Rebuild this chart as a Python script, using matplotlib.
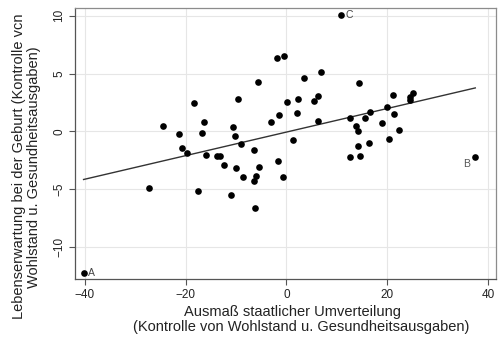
import numpy as np
import matplotlib.pyplot as plt

plt.rcParams['font.family'] = ['Liberation Sans', 'DejaVu Sans']

# partial residuals (x: redistribution, y: life expectancy)
umverteilung = [-40.2, -27.2, -24.5, -21.3, -20.7, -19.8, -18.3, -17.6, -16.8, -16.4,
                -16.0, -13.7, -13.2, -12.4, -10.9, -10.6, -10.2, -9.96, -9.56, -9.03,
                -8.70, -6.52, -6.39, -6.0, -6.26, -5.59, -5.39, -3.0, -1.89, -1.69,
                -1.42, -0.63, -0.43, 0.17, 1.36, 2.15, 2.35, 3.47, 5.46, 6.25,
                6.25, 6.78, 10.75, 12.5, 12.5, 13.8, 14.1, 14.1, 14.3, 14.5,
                15.6, 16.4, 16.6, 18.9, 20.0, 20.3, 21.1, 21.2, 22.2, 24.4,
                24.5, 25.0, 37.4]
lebenserwartung = [-12.19, -4.89, 0.50, -0.22, -1.40, -1.89, 2.50, -5.12, -0.13, 0.79,
                   -2.01, -2.09, -2.09, -2.93, -5.47, 0.39, -0.42, -3.13, 2.84, -1.08,
                   -3.94, -1.63, -4.31, -3.82, -6.57, 4.29, -3.04, 0.79, 6.39, -2.58,
                   1.43, -3.91, 6.48, 2.58, -0.74, 1.57, 2.79, 4.66, 2.61, 3.10,
                   0.94, 5.15, 10.03, 1.17, -2.21, 0.50, 0.07, -1.28, 4.17, -2.09,
                   1.17, -1.0, 1.69, 0.71, 2.09, -0.65, 3.19, 1.54, 0.13, 2.75,
                   2.95, 3.30, -2.24]
# labelled cases: index, label
markierte = [(0, 'A'), (62, 'B'), (42, 'C')]

x = np.array(umverteilung)
y = np.array(lebenserwartung)

fig = plt.figure(figsize=(5.02, 3.38), dpi=100)
ax = fig.add_axes([0.1494, 0.1746, 0.8386, 0.8008])

ax.grid(True, color='#e6e6e6', linewidth=0.8, zorder=0)
ax.set_axisbelow(True)

b, a = np.polyfit(x, y, 1)
xs = np.array([x.min(), x.max()])
ax.plot(xs, a + b * xs, color='#333333', linewidth=1.0, zorder=2)

ax.plot(x, y, 'o', color='black', markersize=4.8, markeredgewidth=0, zorder=3)

for i, lab in markierte:
    if lab == 'B':
        ax.annotate(lab, (x[i], y[i]), xytext=(-4, -5), textcoords='offset points',
                    ha='right', va='center', fontsize=7.5, color='#555555')
    else:
        ax.annotate(lab, (x[i], y[i]), xytext=(3.5, 0), textcoords='offset points',
                    ha='left', va='center', fontsize=7.5, color='#444444')

ax.set_xlim(-41.9, 41.5)
ax.set_ylim(-12.74, 10.64)
ax.set_xticks([-40, -20, 0, 20, 40])
ax.set_yticks([-10, -5, 0, 5, 10])
ax.tick_params(axis='both', direction='out', length=4, width=0.8, color='#555555',
               labelsize=8.5, labelcolor='#222222', pad=3)
ax.tick_params(axis='y', labelrotation=90)
for lbl in ax.get_yticklabels():
    lbl.set_va('center')

for s in ['left', 'bottom']:
    ax.spines[s].set_color('#555555')
for s in ['top', 'right']:
    ax.spines[s].set_color('#8c8c8c')
for s in ax.spines.values():
    s.set_linewidth(0.9)

fig.text(292 / 502, 1 - 312 / 338, 'Ausmaß staatlicher Umverteilung',
         ha='center', va='center', fontsize=10.5, color='#222222')
fig.text(301 / 502, 1 - 327 / 338, '(Kontrolle von Wohlstand u. Gesundheitsausgaben)',
         ha='center', va='center', fontsize=10.5, color='#222222')
fig.text(19 / 502, 1 - 166 / 338, 'Lebenserwartung bei der Geburt (Kontrolle vcn',
         ha='center', va='center', rotation=90, fontsize=10.5, color='#222222')
fig.text(34 / 502, 1 - 167 / 338, 'Wohlstand u. Gesundheitsausgaben)',
         ha='center', va='center', rotation=90, fontsize=10.5, color='#222222')

fig.savefig('out.png', dpi=100)
